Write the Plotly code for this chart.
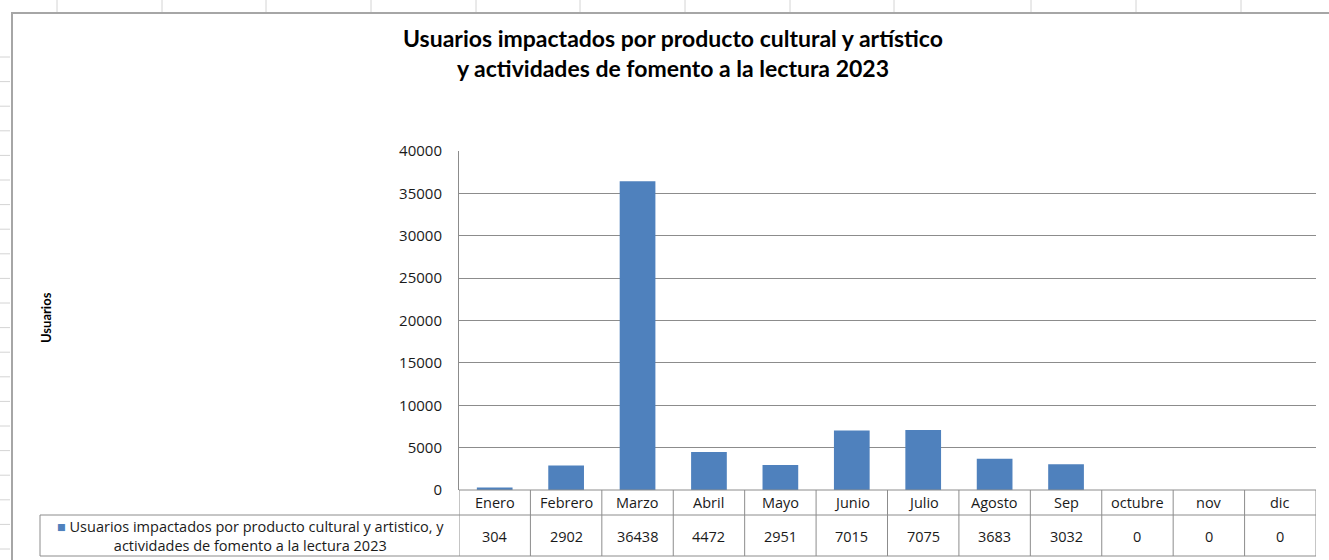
import plotly.graph_objects as go

months = ["Enero", "Febrero", "Marzo", "Abril", "Mayo", "Junio", "Julio",
          "Agosto", "Sep", "octubre", "nov", "dic"]
values = [304, 2902, 36438, 4472, 2951, 7015, 7075, 3683, 3032, 0, 0, 0]
series_name = "Usuarios impactados por producto cultural y artistico, y<br>actividades de fomento a la lectura 2023"
title_text = "Usuarios impactados por producto cultural y artístico<br>y actividades de fomento a la lectura 2023"
y_title = "Usuarios"

W, H = 1329, 560
L, R, T, B = 459, 1316, 151, 490
PW, PH = R - L, B - T

def px(x):
    return (x - L) / PW

def py(y):
    return (B - y) / PH

FONT = "Open Sans"
TFONT = "Lato"
BAR = "#4F81BD"
LINE = "#8c8c8c"
TXT = "#1a1a1a"

xs = list(range(len(months)))
fig = go.Figure(go.Bar(x=xs, y=values, width=0.5, marker_color=BAR,
                       marker_line_width=0, showlegend=False))

shapes = []
ann = []

# spreadsheet background ticks
for gx in [57, 162, 266, 371, 476, 580, 685, 790, 894, 1031, 1136, 1241]:
    shapes.append(dict(type="line", xref="paper", yref="paper", x0=px(gx), x1=px(gx),
                       y0=py(0), y1=py(12), line=dict(color="#d4d4d4", width=1)))
gy = 57.0
while gy < 560:
    shapes.append(dict(type="line", xref="paper", yref="paper", x0=px(0), x1=px(10),
                       y0=py(gy), y1=py(gy), line=dict(color="#d4d4d4", width=1)))
    gy += 24.6

# chart area border
shapes.append(dict(type="rect", xref="paper", yref="paper", x0=px(12), x1=px(1345),
                   y0=py(13), y1=py(575), line=dict(color="#a6a6a6", width=2)))

# data table lines
row1, row2 = 515, 556
shapes.append(dict(type="line", xref="paper", yref="paper", x0=0, x1=1, y0=0, y1=0,
                   line=dict(color=LINE, width=1)))
for yy in (row1, row2):
    shapes.append(dict(type="line", xref="paper", yref="paper", x0=px(40), x1=1,
                       y0=py(yy), y1=py(yy), line=dict(color=LINE, width=1)))
for k in range(len(months) + 1):
    shapes.append(dict(type="line", xref="x", yref="paper", x0=k - 0.5, x1=k - 0.5,
                       y0=0, y1=py(row2), line=dict(color=LINE, width=1)))
shapes.append(dict(type="line", xref="paper", yref="paper", x0=px(40), x1=px(40),
                   y0=py(row1), y1=py(row2), line=dict(color=LINE, width=1)))

for i, (m, v) in enumerate(zip(months, values)):
    ann.append(dict(x=i, xref="x", y=py(502.5), yref="paper", text=m, showarrow=False,
                    font=dict(family=FONT, size=14.5, color=TXT), xanchor="center",
                    yanchor="middle"))
    ann.append(dict(x=i, xref="x", y=py(536), yref="paper", text=str(v), showarrow=False,
                    font=dict(family=FONT, size=14.5, color=TXT), xanchor="center",
                    yanchor="middle"))

ann.append(dict(x=px(250), xref="paper", y=py(535.5), yref="paper",
                text='<span style="color:%s">■</span> ' % BAR + series_name,
                showarrow=False, align="center", xanchor="center", yanchor="middle",
                font=dict(family=FONT, size=14.5, color=TXT)))

ann.append(dict(x=px(673), xref="paper", y=py(53), yref="paper", text="<b>" + title_text + "</b>",
                showarrow=False, align="center", xanchor="center", yanchor="middle",
                font=dict(family=TFONT, size=23, color="#000")))

ann.append(dict(x=px(46), xref="paper", y=py(318), yref="paper", text="<b>" + y_title + "</b>",
                showarrow=False, textangle=-90, xanchor="center", yanchor="middle",
                font=dict(family=TFONT, size=13, color="#000")))

fig.update_layout(
    width=W, height=H,
    margin=dict(l=L, r=W - R, t=T, b=H - B, pad=0),
    paper_bgcolor="white", plot_bgcolor="white",
    bargap=0.5,
    xaxis=dict(range=[-0.5, len(months) - 0.5], showticklabels=False, showgrid=False,
               zeroline=False, showline=False, fixedrange=True),
    yaxis=dict(range=[0, 40000], dtick=5000, tickformat="d", showgrid=True,
               gridcolor=LINE, gridwidth=1,
               zeroline=False, showline=True, linecolor=LINE, linewidth=1,
               ticks="", ticklabelstandoff=13,
               tickfont=dict(family=FONT, size=15, color=TXT), fixedrange=True),
    shapes=shapes, annotations=ann,
)

fig.write_html("out.html")
